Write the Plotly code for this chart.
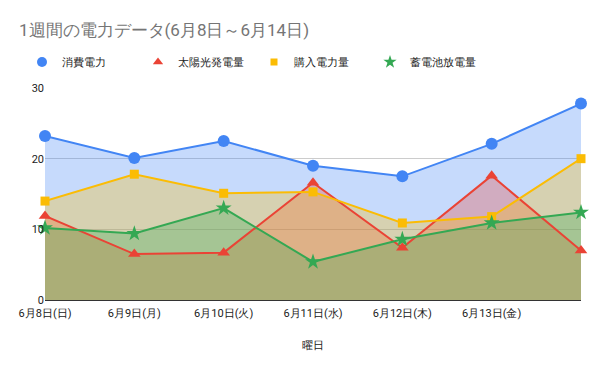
import plotly.graph_objects as go

categories = ["6月8日(日)", "6月9日(月)", "6月10日(火)", "6月11日(水)", "6月12日(木)", "6月13日(金)", "6月14日(土)"]
tick_labels = categories[:6]
consumption = [23.2, 20.1, 22.5, 19.0, 17.5, 22.1, 27.8]
solar = [11.9, 6.5, 6.7, 16.6, 7.4, 17.6, 7.0]
purchased = [14.0, 17.8, 15.1, 15.3, 10.9, 11.8, 20.0]
battery = [10.2, 9.4, 13.0, 5.4, 8.6, 10.9, 12.4]

series = [
    ("消費電力", consumption, "#4285F4", "circle", 12, 10),
    ("太陽光発電量", solar, "#EA4335", "triangle-up", 11, 9),
    ("購入電力量", purchased, "#FBBC04", "square", 9, 7),
    ("蓄電池放電量", battery, "#34A853", "star", 12, 10),
]

def rgba(h, a):
    h = h.lstrip("#")
    return f"rgba({int(h[0:2],16)},{int(h[2:4],16)},{int(h[4:6],16)},{a})"

# page body has an 8px margin: figure is sized/offset to compensate
W, H, OFF = 592, 363, 8

fig = go.Figure()
for name, vals, col, sym, sz, lsz in series:
    fig.add_trace(go.Scatter(
        x=categories, y=vals, mode="none", name=name,
        fill="tozeroy", fillcolor=rgba(col, 0.3),
        showlegend=False, hoverinfo="skip",
    ))
for name, vals, col, sym, sz, lsz in series:
    fig.add_trace(go.Scatter(
        x=categories, y=vals, mode="lines+markers", name=name,
        line=dict(color=col, width=2),
        marker=dict(symbol=sym, size=sz, color=col),
        showlegend=False, cliponaxis=False,
    ))
for name, vals, col, sym, sz, lsz in series:
    fig.add_trace(go.Scatter(
        x=[None], y=[None], mode="markers", name=name,
        marker=dict(symbol=sym, size=lsz, color=col),
        showlegend=True,
    ))

fig.update_layout(
    width=W, height=H,
    margin=dict(l=45 - OFF, r=19, t=88 - OFF, b=71, autoexpand=False),
    paper_bgcolor="white", plot_bgcolor="white",
    font=dict(family="Roboto, Arial, sans-serif", size=11, color="#222222"),
    title=dict(text="1週間の電力データ(6月8日～6月14日)", x=(19 - OFF) / W, xanchor="left",
               xref="container", y=1 - (30 - OFF) / H, yanchor="middle",
               font=dict(size=17, color="#757575")),
    legend=dict(orientation="h", x=(22 - OFF) / W, xref="container", xanchor="left",
                y=1 - (62 - OFF) / H, yref="container", yanchor="middle",
                entrywidth=71, itemwidth=30,
                font=dict(size=11, color="#222222")),
    xaxis=dict(type="category", range=[0, 6], tickvals=tick_labels, ticktext=tick_labels,
               showgrid=False, showline=True, linecolor="#333333", linewidth=1,
               ticks="", ticklabelstandoff=3,
               title=dict(text="曜日", font=dict(size=11, color="#222222"), standoff=22),
               tickfont=dict(size=11), automargin=False),
    yaxis=dict(range=[0, 30], dtick=10, showgrid=True, gridcolor="#cccccc",
               zeroline=False, ticks="", tickfont=dict(size=11), automargin=False),
)
fig.write_html("out.html")
